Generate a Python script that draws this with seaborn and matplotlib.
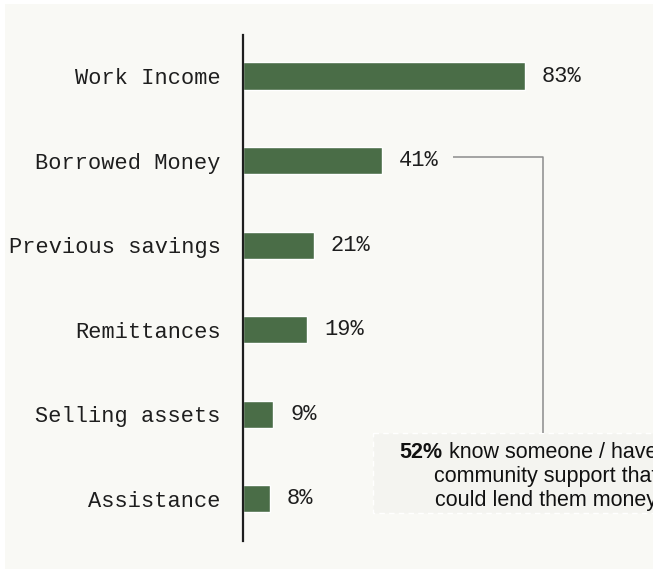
import matplotlib
matplotlib.use("Agg")
import matplotlib.pyplot as plt
from matplotlib.patches import Rectangle
import seaborn as sns
import pandas as pd

# Sources of money used to cope
categories = ["Work Income", "Borrowed Money", "Previous savings",
              "Remittances", "Selling assets", "Assistance"]
shares = [83, 41, 21, 19, 9, 8]
note_lead = "52%"
note_lines = [" know someone / have",
              "community support that",
              "could lend them money"]

BAR = "#4a6d47"
PANEL = "#f9f9f5"
INK = "#1e1e1e"

sns.set_theme(style="white")

df = pd.DataFrame({"source": categories, "share": shares})

W, H, DPI = 653, 569, 100
fig = plt.figure(figsize=(W / DPI, H / DPI), dpi=DPI, facecolor="white")
fig.patches.append(Rectangle((5 / W, 0), 1, (H - 4) / H, transform=fig.transFigure,
                             facecolor=PANEL, edgecolor="none", zorder=-10))

ax_left, ax_right = 242.5, 653
ax_bottom, ax_top = 541, 35
ax = fig.add_axes([ax_left / W, (H - ax_bottom) / H,
                   (ax_right - ax_left) / W, (ax_bottom - ax_top) / H])
ax.set_facecolor("none")

sns.barplot(data=df, x="share", y="source", orient="h", color=BAR,
            saturation=1, width=0.32, ax=ax)

px_per_unit = 3.4
ax.set_xlim(0, (ax_right - ax_left) / px_per_unit)
ax.set_ylim(5.5, -0.485)

for s in ["top", "right", "bottom"]:
    ax.spines[s].set_visible(False)
ax.spines["left"].set_color(INK)
ax.spines["left"].set_linewidth(1.6)
ax.set_xticks([])
ax.set_xlabel("")
ax.set_ylabel("")
ax.tick_params(axis="y", length=0, pad=15.5)
for lab in ax.get_yticklabels():
    lab.set_fontfamily("Liberation Mono")
    lab.set_fontsize(15.8)
    lab.set_color(INK)

for i, v in enumerate(shares):
    ax.annotate(f"{v}%", xy=(v, i), xytext=(12.3, 0), textcoords="offset points",
                ha="left", va="center", fontsize=15.8, family="Liberation Mono",
                color=INK)

# Callout linking the borrowed-money bar to the note
x_elbow = 88.4
ax.plot([62.0, x_elbow, x_elbow], [0.953, 0.953, 4.22], color="#8c8c8c",
        lw=1.1, clip_on=False, solid_capstyle="butt")
ax.add_patch(Rectangle((38.4, 4.22), 100, 0.95, facecolor="#f4f4f0",
                       edgecolor="white", linestyle=(0, (4, 3)), lw=1.0,
                       clip_on=False, zorder=0))

note_right = 121.9
note_rows = [4.457, 4.740, 5.024]
note_style = dict(fontsize=15.5, family="Liberation Sans", color="#111111",
                  clip_on=False, va="center", ha="right")
first = None
for y, line in zip(note_rows, note_lines):
    t = ax.text(note_right, y, line, **note_style)
    if first is None:
        first = t
ax.annotate(note_lead, xy=(0, 0.5), xycoords=first, ha="right", va="center",
            fontsize=15.5, family="Liberation Sans", weight="bold",
            color="#111111", annotation_clip=False)

fig.savefig("out.png", dpi=DPI, facecolor="white")
